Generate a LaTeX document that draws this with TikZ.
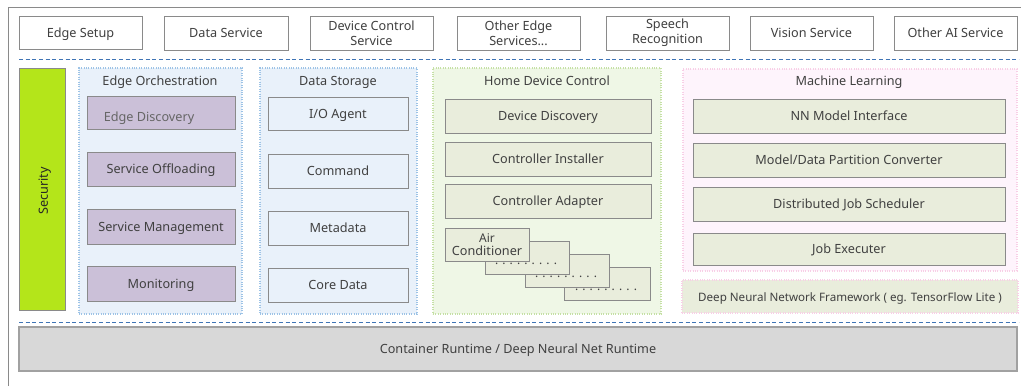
\documentclass[tikz,border=0pt]{standalone}
\usepackage{fontspec}
\setmainfont{Noto Sans}
\definecolor{edgeC}{HTML}{8A8A8A}
\definecolor{panelB}{HTML}{E9F1FA}
\definecolor{panelBd}{HTML}{9DC3E6}
\definecolor{panelG}{HTML}{EFF7E6}
\definecolor{panelGd}{HTML}{C5E0A5}
\definecolor{panelP}{HTML}{FEF4FC}
\definecolor{panelPd}{HTML}{F8CFE6}
\definecolor{olive}{HTML}{E9EDDC}
\definecolor{mauve}{HTML}{CBC0D8}
\definecolor{lime}{HTML}{B4E51A}
\definecolor{runtimeC}{HTML}{D8D8D8}
\definecolor{dashC}{HTML}{3F74B5}
\definecolor{txt}{HTML}{404040}
\tikzset{
  x=0.75pt,y=-0.75pt,
  every node/.style={inner sep=0pt,outer sep=0pt,align=center,text=txt,text height=9.3pt,text depth=2pt,font=\fontsize{9.5}{11.5}\selectfont},
  whitebox/.style={draw=edgeC,line width=0.75pt,fill=white},
  twolines/.style={text height=,text depth=},
  bluebox/.style={draw=edgeC,line width=0.75pt,fill=panelB},
  mauvebox/.style={draw=edgeC,line width=0.75pt,fill=mauve},
  olivebox/.style={draw=edgeC,line width=0.75pt,fill=olive},
  bluepanel/.style={draw=panelBd,densely dotted,line width=0.8pt,fill=panelB},
  greenpanel/.style={draw=panelGd,densely dotted,line width=0.8pt,fill=panelG},
  pinkpanel/.style={draw=panelPd,densely dotted,line width=0.8pt,fill=panelP},
  pinkolive/.style={draw=panelPd,densely dotted,line width=0.8pt,fill=olive},
  limebox/.style={draw=edgeC,line width=0.75pt,fill=lime},
  runtimebox/.style={draw=edgeC!80,line width=0.9pt,fill=runtimeC},
  sep/.style={draw=dashC,line width=0.7pt,dash pattern=on 3pt off 2pt},
  frameline/.style={draw=edgeC,line width=0.7pt},
  dotrow/.style={anchor=base,text height=,text depth=,font=\fontsize{9}{11}\selectfont}
}
% name, x1, y1, x2, y2, style, text
\newcommand{\bx}[7]{%
  \pgfmathsetmacro{\bw}{(#4-#2)*0.75}%
  \pgfmathsetmacro{\bh}{(#5-#3)*0.75}%
  \node[#6,minimum width=\bw pt,minimum height=\bh pt] (#1) at ({(#2+#4)/2},{(#3+#5)/2}) {#7};%
}
\newcommand{\dotline}{.\hspace{3.1pt}.\hspace{3.1pt}.\hspace{3.1pt}.\hspace{3.1pt}.\hspace{3.1pt}.\hspace{3.1pt}.\hspace{3.1pt}.\hspace{3.1pt}.}
\begin{document}
\begin{tikzpicture}
\useasboundingbox (0,0) rectangle (1021,386);
\fill[white] (0,0) rectangle (1021,386);
\coordinate (f1) at (8.5,386);
\coordinate (f2) at (8.5,7.5);
\coordinate (f3) at (1021,7.5);
\draw[frameline] (f1) -- (f2) -- (f3);
% top services
\bx{t1}{19}{16}{142}{49}{whitebox}{Edge Setup}
\bx{t2}{164}{16}{288}{50}{whitebox}{Data Service}
\bx{t3}{310}{16}{433}{50}{whitebox,twolines}{Device Control\\[-0.5pt]Service}
\bx{t4}{457}{16}{580}{50}{whitebox,twolines}{Other Edge\\[-0.5pt]Services...}
\bx{t5}{606}{16}{729}{50}{whitebox,twolines}{Speech\\[-0.5pt]Recognition}
\bx{t6}{750}{16}{873}{50}{whitebox}{Vision Service}
\bx{t7}{894}{16}{1017}{50}{whitebox}{Other AI Service}
\coordinate (d1a) at (19,59);
\coordinate (d1b) at (1019,59);
\draw[sep] (d1a) -- (d1b);
% security
\bx{sec}{19}{68}{65}{310}{limebox}{}
\node[rotate=90,text=black!85] (sect) at (43,191) {Security};
% edge orchestration
\bx{eo}{79}{68}{242}{314}{bluepanel}{}
\node (eot) at (160,81) {Edge Orchestration};
\bx{eo1}{87}{96}{235}{129}{mauvebox}{}
\node[text=black!60] (eo1t) at (149,117) {Edge Discovery};
\bx{eo2}{87}{152}{235}{186}{mauvebox}{Service Offloading}
\bx{eo3}{87}{209}{235}{244}{mauvebox}{Service Management}
\bx{eo4}{87}{266}{235}{301}{mauvebox}{Monitoring}
% data storage
\bx{ds}{260}{68}{417}{314}{bluepanel}{}
\node (dst) at (338,81) {Data Storage};
\bx{ds1}{268}{97}{408}{130}{bluebox}{I/O Agent}
\bx{ds2}{268}{154}{408}{188}{bluebox}{Command}
\bx{ds3}{268}{211}{408}{245}{bluebox}{Metadata}
\bx{ds4}{268}{268}{408}{302}{bluebox}{Core Data}
% home device control
\bx{hd}{433}{68}{661}{314}{greenpanel}{}
\node (hdt) at (547,81) {Home Device Control};
\bx{hd1}{445}{99}{651}{133}{olivebox}{Device Discovery}
\bx{hd2}{445}{142}{651}{176}{olivebox}{Controller Installer}
\bx{hd3}{445}{184}{651}{218}{olivebox}{Controller Adapter}
\bx{s4}{564}{267}{650}{300}{olivebox}{}
\node[dotrow] (s4t) at (606,290) {\dotline};
\bx{s3}{525}{254}{609}{287}{olivebox}{}
\node[dotrow] (s3t) at (566,277) {\dotline};
\bx{s2}{485}{241}{569}{274}{olivebox}{}
\node[dotrow] (s2t) at (526,264) {\dotline};
\bx{s1}{445}{228}{529}{261}{olivebox,twolines}{\fontsize{9}{10.5}\selectfont Air\\[-1.5pt]Conditioner}
% machine learning
\bx{ml}{683}{69}{1017}{271}{pinkpanel}{}
\node (mlt) at (849,81) {Machine Learning};
\bx{ml1}{693}{99}{1005}{133}{olivebox}{NN Model Interface}
\bx{ml2}{693}{143}{1005}{177}{olivebox}{Model/Data Partition Converter}
\bx{ml3}{693}{187}{1005}{221}{olivebox}{Distributed Job Scheduler}
\bx{ml4}{693}{233}{1005}{265}{olivebox}{Job Executer}
\bx{dnn}{682}{280}{1018}{313}{pinkolive}{\fontsize{8.7}{11}\selectfont Deep Neural Network Framework ( eg. TensorFlow Lite )}
\coordinate (d2a) at (19,322);
\coordinate (d2b) at (1019,322);
\draw[sep] (d2a) -- (d2b);
\bx{rt}{19}{327}{1017}{371}{runtimebox}{Container Runtime / Deep Neural Net Runtime}
\end{tikzpicture}
\end{document}
